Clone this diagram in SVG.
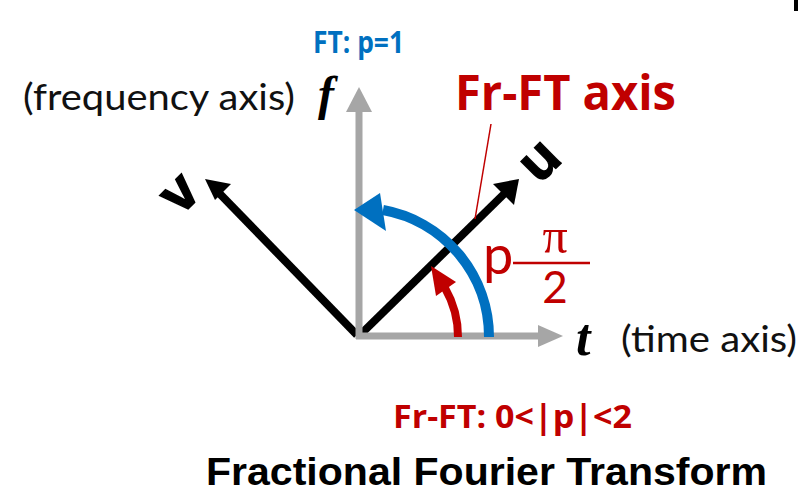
<svg xmlns="http://www.w3.org/2000/svg" width="807" height="494" viewBox="0 0 807 494">
<style>
.ax{stroke:#A6A6A6;stroke-width:7;fill:none}
.axh{fill:#A6A6A6}
.bl{stroke:#000;stroke-width:8;fill:none}
.blh{fill:#000}
.cal{font-family:Lato,"Open Sans",sans-serif;fill:#111}
.bold{font-family:"Open Sans","Noto Sans",sans-serif;font-weight:bold}
.ser{font-family:"Liberation Serif",serif;font-weight:bold;font-style:italic;fill:#000}
.red{fill:#C00000}
.blue{fill:#0070C0}
.lt{font-family:"Liberation Sans",sans-serif;font-weight:bold;font-size:56px;fill:#000;stroke:#000;stroke-width:1.5}
</style>
<rect width="807" height="494" fill="#fff"/>
<rect x="794" y="0" width="4" height="11" fill="#000"/>
<g id="connectors">
  <g id="v-axis">
    <line class="bl" x1="357" y1="335" x2="220" y2="194"/>
    <polygon class="blh" points="205,179 231,184 215,200"/>
  </g>
  <g id="u-axis">
    <line class="bl" x1="361" y1="334" x2="504" y2="194"/>
    <polygon class="blh" points="519,179 514,205 493,184"/>
  </g>
  <g id="t-axis">
    <line class="ax" x1="356" y1="336" x2="540" y2="336"/>
    <polygon class="axh" points="563,336 538,325 538,347"/>
  </g>
  <g id="f-axis">
    <line class="ax" x1="359" y1="339" x2="359" y2="110"/>
    <polygon class="axh" points="359,87 346,112 372,112"/>
  </g>
  <g id="blue-arc">
    <path d="M489,337 A129,129 0 0 0 383,210" stroke="#0070C0" stroke-width="10" fill="none"/>
    <polygon class="blue" points="354,210 380,193 386,231"/>
  </g>
  <g id="red-arc">
    <path d="M458,337 A98,98 0 0 0 445,288" stroke="#C00000" stroke-width="8" fill="none"/>
    <polygon class="red" points="431,266 456,282 436,296"/>
  </g>
  <line id="fr-ft-pointer" x1="491" y1="124" x2="475" y2="219" stroke="#C00000" stroke-width="1.5"/>
</g>
<g id="label-ft">
  <text class="bold blue" x="313" y="53" font-size="31" textLength="91" lengthAdjust="spacingAndGlyphs">FT: p=1</text>
</g>
<g id="label-frequency">
  <text class="cal" x="23" y="110" font-size="36" textLength="272" lengthAdjust="spacingAndGlyphs">(frequency axis)</text>
  <text class="ser" x="318" y="110" font-size="48">f</text>
</g>
<g id="label-frft-axis">
  <text class="bold red" x="455" y="110" font-size="48" textLength="221" lengthAdjust="spacingAndGlyphs">Fr-FT axis</text>
</g>
<g id="label-u">
  <text class="lt" x="0" y="15" transform="translate(541,162) rotate(-45)" text-anchor="middle">u</text>
</g>
<g id="label-v">
  <text class="lt" x="0" y="15" transform="translate(181,195) rotate(-45)" text-anchor="middle">v</text>
</g>
<g id="label-angle">
  <text class="cal" x="483" y="274" font-size="54" style="fill:#C00000">p</text>
  <line x1="513" y1="263" x2="590" y2="263" stroke="#C00000" stroke-width="2.5"/>
  <text x="555" y="253" text-anchor="middle" font-family="'Liberation Serif',serif" font-size="50" fill="#C00000">π</text>
  <text class="cal" x="555" y="303" text-anchor="middle" font-size="44" style="fill:#C00000">2</text>
</g>
<g id="label-time">
  <text class="ser" x="576" y="355" font-size="52">t</text>
  <text class="cal" x="621" y="352" font-size="36" textLength="176" lengthAdjust="spacingAndGlyphs">(time axis)</text>
</g>
<g id="label-range">
  <text class="bold red" x="393" y="428" font-size="32" textLength="239" lengthAdjust="spacingAndGlyphs">Fr-FT: 0&lt;|p|&lt;2</text>
</g>
<g id="title">
  <text x="206" y="485" font-family="'Liberation Sans',sans-serif" font-weight="bold" font-size="38" fill="#000" textLength="561" lengthAdjust="spacingAndGlyphs">Fractional Fourier Transform</text>
</g>
</svg>
